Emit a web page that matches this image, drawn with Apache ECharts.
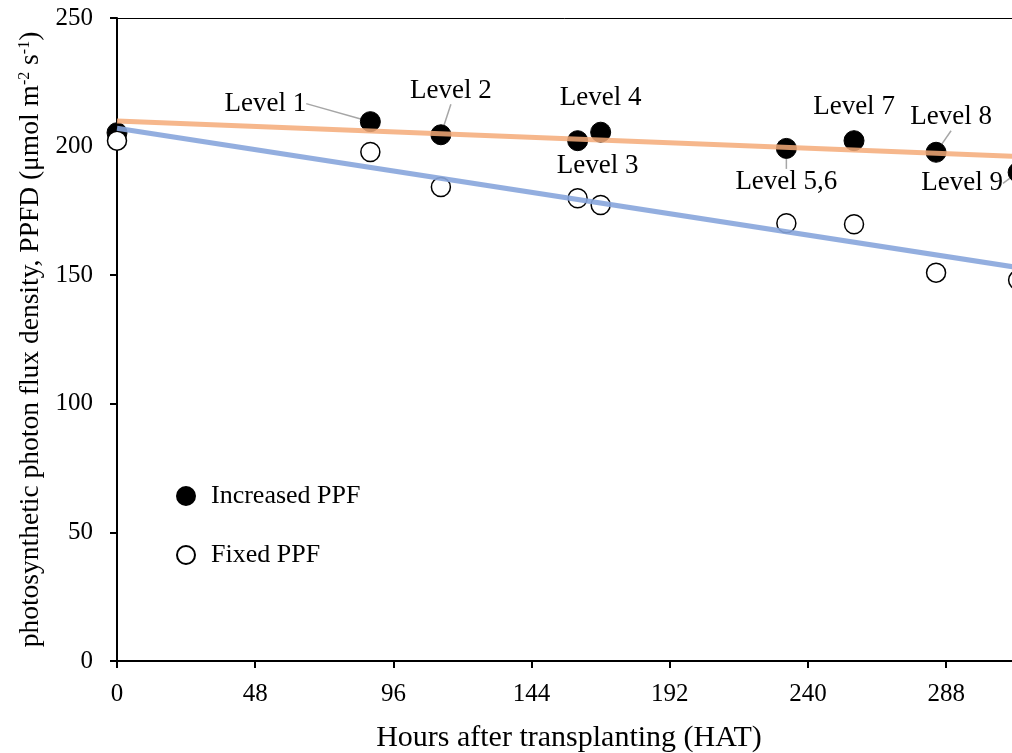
<!DOCTYPE html>
<html>
<head>
<meta charset="utf-8">
<script src="https://cdn.jsdelivr.net/npm/echarts@6/dist/echarts.min.js"></script>
<style>
  html, body { margin: 0; padding: 0; background: #fff; }
  #main { width: 1012px; height: 753px; }
</style>
</head>
<body>
<div id="main"></div>
<script>
var myChart = echarts.init(document.getElementById('main'));

// hours after transplanting for each measurement
var hours = [0, 88, 112.5, 160, 168, 232.5, 256, 284.5, 313];
var increasedPPFD = [205.4, 209.7, 204.6, 202.3, 205.6, 199.3, 202.3, 197.8, 190.0];
var fixedPPFD = [202.3, 197.9, 184.3, 179.9, 177.3, 170.2, 169.8, 151.0, 148.1];
var levelNames = ['', 'Level 1', 'Level 2', 'Level 3', 'Level 4', 'Level 5,6', 'Level 7', 'Level 8', 'Level 9'];

// linear trend lines (end points)
var trendHours = [0, 314];
var increasedTrend = [210.0, 196.1];
var fixedTrend = [207.1, 152.8];

var xTicks = [0, 48, 96, 144, 192, 240, 288];

// label offsets (px) relative to the point, and whether a leader line is drawn
var labelOffsets = [
  [0, 0, false], [-105, -18, true], [10, -44, true], [20, 25, false], [0, -34, false],
  [0, 34, true], [0, -34, false], [15, -35, true], [-56, 11, true]
];

var font = '"Liberation Serif", "Times New Roman", serif';

function pairs(xs, ys) {
  return xs.map(function (x, i) { return [x, ys[i]]; });
}

var increasedData = hours.map(function (h, i) {
  return {
    value: [h, increasedPPFD[i]],
    label: { show: levelNames[i] !== '', formatter: levelNames[i] },
    labelLine: { show: labelOffsets[i][2] }
  };
});

var option = {
  animation: false,
  backgroundColor: '#fff',
  grid: { left: 117, width: 904, top: 18, bottom: 92, containLabel: false, outerBoundsMode: 'none' },
  legend: {
    orient: 'vertical',
    left: 171,
    top: 478,
    itemWidth: 18,
    itemHeight: 18,
    itemGap: 33,
    data: ['Increased PPF', 'Fixed PPF'],
    textStyle: { fontFamily: font, fontSize: 26, color: '#000', padding: [0, 0, 0, 11] }
  },
  xAxis: [{
    type: 'value',
    min: 0,
    max: 314,
    interval: 48,
    name: 'Hours after transplanting (HAT)',
    nameLocation: 'middle',
    nameGap: 62,
    nameTextStyle: { fontFamily: font, fontSize: 30, color: '#000' },
    axisLine: { show: true, lineStyle: { color: '#000', width: 2 } },
    axisTick: { show: true, length: 7, lineStyle: { color: '#000', width: 2 } },
    axisLabel: {
      fontFamily: font, fontSize: 25, color: '#000', margin: 21,
      customValues: xTicks
    },
    splitLine: { show: false }
  }, {
    type: 'value',
    position: 'top',
    min: 0,
    max: 314,
    axisLine: { show: true, lineStyle: { color: '#000', width: 1 } },
    axisTick: { show: false },
    axisLabel: { show: false },
    splitLine: { show: false }
  }],
  yAxis: {
    type: 'value',
    min: 0,
    max: 250,
    interval: 50,
    name: 'photosynthetic photon flux density, PPFD (μmol m{sup|-2} s{sup|-1})',
    nameLocation: 'middle',
    nameRotate: 90,
    nameGap: 70,
    nameTextStyle: {
      fontFamily: font, fontSize: 27.5, color: '#000',
      rich: {
        sup: { fontFamily: font, fontSize: 16, color: '#000', verticalAlign: 'top', padding: [0, 0, 11, 0] }
      }
    },
    axisLine: { show: true, lineStyle: { color: '#000', width: 2 } },
    axisTick: { show: true, length: 7, lineStyle: { color: '#000', width: 2 } },
    axisLabel: { fontFamily: font, fontSize: 25, color: '#000', margin: 24 },
    splitLine: { show: false }
  },
  series: [{
    name: 'Increased PPF',
    type: 'scatter',
    symbol: 'circle',
    symbolSize: 20,
    z: 2,
    itemStyle: { color: '#000', borderColor: '#000', borderWidth: 1, opacity: 1 },
    label: {
      position: 'inside',
      fontFamily: font,
      fontSize: 27,
      color: '#000'
    },
    labelLine: { lineStyle: { color: '#a6a6a6', width: 1.5 } },
    labelLayout: function (params) {
      var o = labelOffsets[params.dataIndex];
      return { dx: o[0], dy: o[1] };
    },
    data: increasedData
  }, {
    name: 'Fixed PPF',
    type: 'scatter',
    symbol: 'circle',
    symbolSize: 19,
    z: 2,
    itemStyle: { color: '#fff', borderColor: '#000', borderWidth: 1.5, opacity: 1 },
    data: pairs(hours, fixedPPFD)
  }, {
    name: 'Increased trend',
    type: 'line',
    symbol: 'none',
    z: 5,
    silent: true,
    lineStyle: { color: 'rgba(244,170,120,0.85)', width: 5 },
    data: pairs(trendHours, increasedTrend)
  }, {
    name: 'Fixed trend',
    type: 'line',
    symbol: 'none',
    z: 5,
    silent: true,
    lineStyle: { color: 'rgba(135,165,220,0.9)', width: 5 },
    data: pairs(trendHours, fixedTrend)
  }]
};

myChart.setOption(option);
</script>
</body>
</html>
